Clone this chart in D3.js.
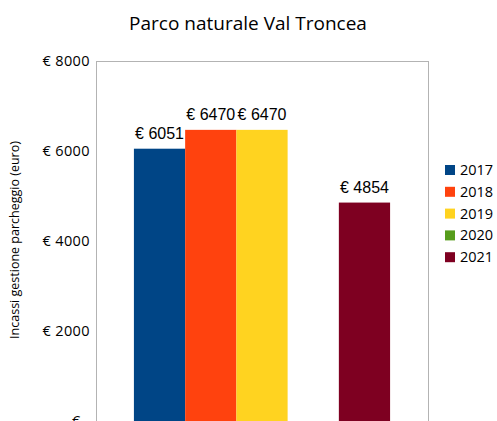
<!DOCTYPE html>
<html>
<head>
<meta charset="utf-8">
<script src="https://cdn.jsdelivr.net/npm/d3@7/dist/d3.min.js"></script>
<style>
  html, body { margin: 0; padding: 0; background: #fff; }
  svg { display: block; }
  .title { font-family: "Open Sans", sans-serif; font-size: 19px; fill: #000; }
  .axis-title { font-family: "Open Sans", sans-serif; font-size: 12.5px; fill: #000; }
  .tick-label { font-family: "Open Sans", sans-serif; font-size: 14.5px; letter-spacing: 0.4px; fill: #000; }
  .value-label { font-family: "Liberation Sans", Arial, sans-serif; font-size: 16px; fill: #000; }
  .legend-label { font-family: "Open Sans", sans-serif; font-size: 14.5px; fill: #000; }
</style>
</head>
<body>
<svg id="chart" width="497" height="421"></svg>
<script>
const years = ["2017", "2018", "2019", "2020", "2021"];
const incassi = [6051, 6470, 6470, null, 4854];
const colors = ["#004586", "#ff420e", "#ffd320", "#579d1c", "#7e0021"];
const yTicks = [0, 2000, 4000, 6000, 8000];

const W = 497, H = 421;
const plot = { left: 96, top: 61, right: 428, bottom: 421 };

const svg = d3.select("#chart");

const x = d3.scaleBand()
  .domain(years)
  .range([plot.left, plot.right])
  .paddingInner(0)
  .paddingOuter(0.74);

const y = d3.scaleLinear()
  .domain([0, 8000])
  .range([plot.bottom, plot.top]);

const fmt = v => v === 0 ? "€ -" : "€ " + v;

// title
svg.append("text")
  .attr("class", "title")
  .attr("x", 248)
  .attr("y", 30)
  .attr("text-anchor", "middle")
  .text("Parco naturale Val Troncea");

// plot frame
svg.append("rect")
  .attr("x", plot.left + 0.5)
  .attr("y", plot.top + 0.5)
  .attr("width", plot.right - plot.left)
  .attr("height", plot.bottom - plot.top)
  .attr("fill", "#fff")
  .attr("stroke", "#b3b3b3")
  .attr("stroke-width", 1);

// y tick labels (the zero label is cut by the bottom edge, as in the original)
svg.append("g")
  .selectAll("text")
  .data(yTicks)
  .join("text")
  .attr("class", "tick-label")
  .attr("x", 90)
  .attr("y", d => y(d))
  .attr("dy", "0.35em")
  .attr("text-anchor", "end")
  .text(fmt);

// y axis title
svg.append("text")
  .attr("class", "axis-title")
  .attr("transform", "translate(19,240) rotate(-90)")
  .attr("text-anchor", "middle")
  .text("Incassi gestione parcheggio (euro)");

const data = years.map((yr, i) => ({ year: yr, value: incassi[i], color: colors[i] }));
const shown = data.filter(d => d.value != null);

// bars
svg.append("g")
  .selectAll("rect")
  .data(shown)
  .join("rect")
  .attr("x", d => x(d.year))
  .attr("y", d => y(d.value))
  .attr("width", x.bandwidth())
  .attr("height", d => y(0) - y(d.value))
  .attr("fill", d => d.color);

// value labels
svg.append("g")
  .selectAll("text")
  .data(shown)
  .join("text")
  .attr("class", "value-label")
  .attr("x", d => x(d.year) + x.bandwidth() / 2)
  .attr("y", d => y(d.value) - 10)
  .attr("text-anchor", "middle")
  .text(d => fmt(d.value));

// legend
const legend = svg.append("g")
  .selectAll("g")
  .data(data)
  .join("g")
  .attr("transform", (d, i) => `translate(445, ${170 + i * 21.8})`);

legend.append("rect")
  .attr("x", 0)
  .attr("y", -5)
  .attr("width", 10)
  .attr("height", 10)
  .attr("fill", d => d.color);

legend.append("text")
  .attr("class", "legend-label")
  .attr("x", 15)
  .attr("y", 0)
  .attr("dy", "0.35em")
  .text(d => d.year);
</script>
</body>
</html>
